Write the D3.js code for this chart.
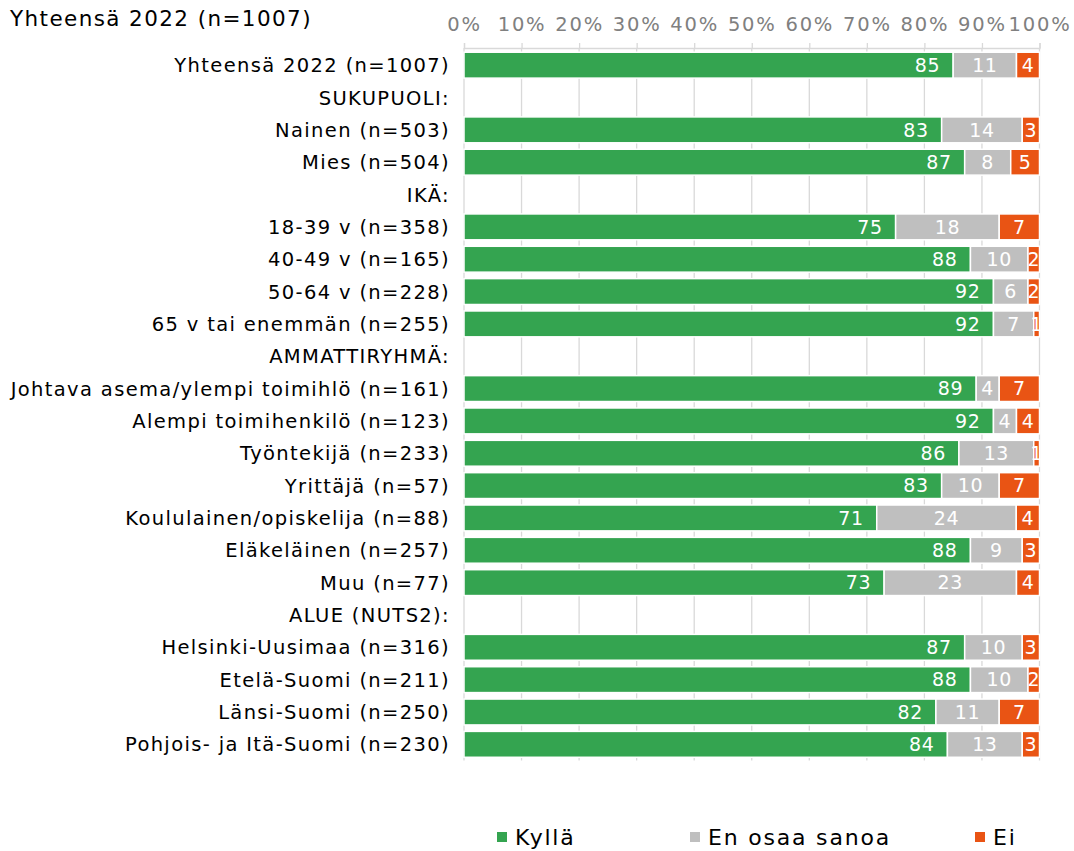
<!DOCTYPE html>
<html>
<head>
<meta charset="utf-8">
<script src="https://cdn.jsdelivr.net/npm/d3@7"></script>
<style>
  html, body { margin: 0; padding: 0; background: #fff; }
  svg { display: block; font-family: "DejaVu Sans", Verdana, sans-serif; }
</style>
</head>
<body>
<svg id="chart" width="1074" height="851"></svg>
<script>
// ---- Data ----
const title = "Yhteensä 2022 (n=1007)";
const categories = [
  "Yhteensä 2022 (n=1007)",
  "SUKUPUOLI:",
  "Nainen (n=503)",
  "Mies (n=504)",
  "IKÄ:",
  "18-39 v (n=358)",
  "40-49 v (n=165)",
  "50-64 v (n=228)",
  "65 v tai enemmän (n=255)",
  "AMMATTIRYHMÄ:",
  "Johtava asema/ylempi toimihlö (n=161)",
  "Alempi toimihenkilö (n=123)",
  "Työntekijä (n=233)",
  "Yrittäjä (n=57)",
  "Koululainen/opiskelija (n=88)",
  "Eläkeläinen (n=257)",
  "Muu (n=77)",
  "ALUE (NUTS2):",
  "Helsinki-Uusimaa (n=316)",
  "Etelä-Suomi (n=211)",
  "Länsi-Suomi (n=250)",
  "Pohjois- ja Itä-Suomi (n=230)"
];
const seriesNames = ["Kyllä", "En osaa sanoa", "Ei"];
const kylla = [85, null, 83, 87, null, 75, 88, 92, 92, null, 89, 92, 86, 83, 71, 88, 73, null, 87, 88, 82, 84];
const enOsaa = [11, null, 14, 8, null, 18, 10, 6, 7, null, 4, 4, 13, 10, 24, 9, 23, null, 10, 10, 11, 13];
const ei = [4, null, 3, 5, null, 7, 2, 2, 1, null, 7, 4, 1, 7, 4, 3, 4, null, 3, 2, 7, 3];
const tickValues = [0, 0.1, 0.2, 0.3, 0.4, 0.5, 0.6, 0.7, 0.8, 0.9, 1.0];
const colors = ["#34a450", "#bfbfbf", "#e95414"];

(function () {
// ---- Build rows ----
const rows = categories.map((c, i) => ({
  cat: c,
  hasBar: kylla[i] !== null,
  "Kyllä": kylla[i] || 0,
  "En osaa sanoa": enOsaa[i] || 0,
  "Ei": ei[i] || 0
}));

const svg = d3.select("#chart");
const pLeft = 464, pRight = 1039.5, pTop = 49, pBottom = 760.5;

const x = d3.scaleLinear().domain([0, 1]).range([pLeft, pRight]);
const y = d3.scaleBand().domain(categories).range([pTop, pBottom]).paddingInner(0.2).paddingOuter(0.1);

// gridlines
svg.append("g").selectAll("line").data(tickValues).join("line")
  .attr("x1", d => x(d)).attr("x2", d => x(d))
  .attr("y1", pTop - 1).attr("y2", pBottom)
  .attr("stroke", "#d9d9d9").attr("stroke-width", 1.3);

// top axis
const axis = d3.axisTop(x).tickValues(tickValues).tickFormat(d3.format(".0%")).tickSize(5).tickPadding(12);
const ax = svg.append("g").attr("transform", `translate(0,${pTop - 1})`).call(axis);
ax.select(".domain").attr("stroke", "#d9d9d9").attr("stroke-width", 1.3);
ax.selectAll(".tick line").attr("stroke", "#d9d9d9").attr("stroke-width", 1.3);
ax.selectAll(".tick text").attr("fill", "#808080").attr("font-size", 19.5)
  .attr("letter-spacing", 1.8)
  .attr("font-family", "DejaVu Sans, Verdana, sans-serif");

// stacks
const stack = d3.stack().keys(seriesNames).offset(d3.stackOffsetExpand);
const stacked = stack(rows);

const layers = svg.append("g").selectAll("g").data(stacked).join("g")
  .attr("fill", (d, i) => colors[i]);

layers.selectAll("rect").data(d => d.filter(p => p.data.hasBar)).join("rect")
  .attr("x", d => x(d[0]))
  .attr("width", d => Math.max(0, x(d[1]) - x(d[0])))
  .attr("y", d => y(d.data.cat))
  .attr("height", y.bandwidth())
  .attr("stroke", "#fff").attr("stroke-width", 1.5);

// value labels
stacked.forEach((layer, li) => {
  svg.append("g").selectAll("text").data(layer.filter(p => p.data.hasBar)).join("text")
    .attr("x", d => li === 0 ? x(d[1]) - 13 : (x(d[0]) + x(d[1])) / 2)
    .attr("y", d => y(d.data.cat) + y.bandwidth() / 2)
    .attr("dy", "0.36em")
    .attr("text-anchor", li === 0 ? "end" : "middle")
    .attr("fill", "#fff")
    .attr("font-size", 19)
    .attr("letter-spacing", 0.6)
    .text(d => d.data[layer.key]);
});

// category labels
svg.append("g").selectAll("text").data(categories).join("text")
  .attr("x", 450)
  .attr("y", d => y(d) + y.bandwidth() / 2)
  .attr("dy", "0.36em")
  .attr("text-anchor", "end")
  .attr("fill", "#000")
  .attr("font-size", 19.5)
  .attr("letter-spacing", 1.35)
  .text(d => d);

// title
svg.append("text").attr("x", 10).attr("y", 18).attr("dy", "0.36em")
  .attr("font-size", 21.5).attr("letter-spacing", 1.4).attr("fill", "#000").text(title);

// legend
const legendX = [497, 690, 975];
const lg = svg.append("g").selectAll("g").data(seriesNames).join("g")
  .attr("transform", (d, i) => `translate(${legendX[i]},837)`);
lg.append("rect").attr("x", 0).attr("y", -5).attr("width", 10).attr("height", 10)
  .attr("fill", (d, i) => colors[i]);
lg.append("text").attr("x", 18).attr("y", 0).attr("dy", "0.36em")
  .attr("font-size", 22).attr("letter-spacing", 1.8).attr("fill", "#000").text(d => d);
})();
</script>
</body>
</html>
